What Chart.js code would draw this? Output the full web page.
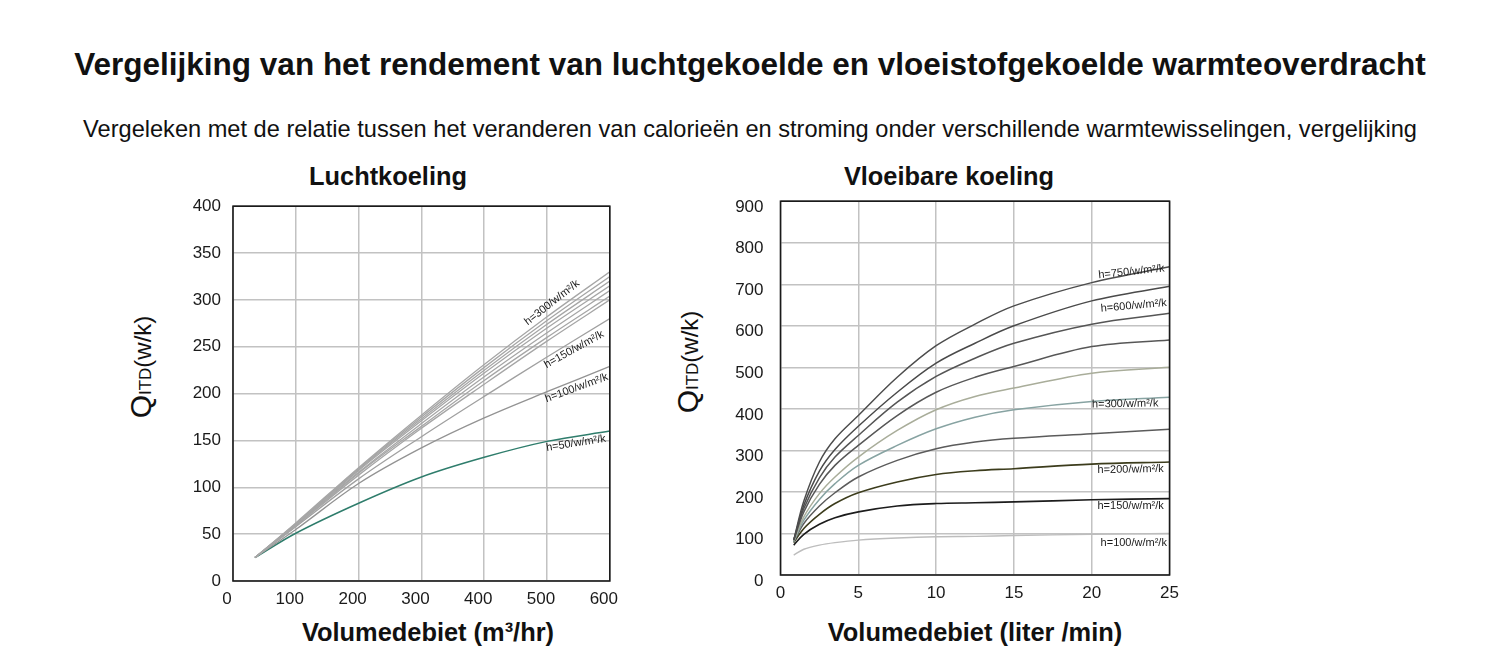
<!DOCTYPE html>
<html lang="nl">
<head>
<meta charset="utf-8">
<title>Vergelijking luchtgekoelde en vloeistofgekoelde warmteoverdracht</title>
<script src="https://cdn.jsdelivr.net/npm/chart.js@4.4.1/dist/chart.umd.min.js"></script>
<style>
    html, body { margin: 0; padding: 0; background: #fff; }
    body {
        width: 1500px; height: 650px; position: relative; overflow: hidden;
        font-family: "Liberation Sans", Arial, sans-serif; color: #111;
    }
    .abs { position: absolute; white-space: nowrap; line-height: 1; }
    #title    { left: 0; width: 1500px; top: 49px; text-align: center; font-size: 31.5px; font-weight: bold; }
    #subtitle { left: 0; width: 1500px; top: 118px; text-align: center; font-size: 23.6px; }
    .panel-title { top: 164px; font-size: 25.4px; font-weight: bold; transform: translateX(-50%); }
    .x-title     { top: 620px; font-size: 25.4px; font-weight: bold; transform: translateX(-50%); }
    .y-title     { font-size: 24px; transform: translate(-50%, -50%) rotate(-90deg); }
    .y-title .q  { font-size: 30px; }
    .y-title .s  { font-size: 17px; }
    .plot { position: absolute; }
</style>
</head>
<body>

<div id="title" class="abs">Vergelijking van het rendement van luchtgekoelde en vloeistofgekoelde warmteoverdracht</div>
<div id="subtitle" class="abs">Vergeleken met de relatie tussen het veranderen van calorieën en stroming onder verschillende warmtewisselingen, vergelijking</div>

<div class="abs panel-title" style="left:388px">Luchtkoeling</div>
<div class="abs panel-title" style="left:949px">Vloeibare koeling</div>

<div class="abs y-title" style="left:141px; top:367px"><span class="q">Q</span><span class="s">ITD</span>(w/k)</div>
<div class="abs y-title" style="left:688px; top:362px"><span class="q">Q</span><span class="s">ITD</span>(w/k)</div>

<div class="abs x-title" style="left:428px">Volumedebiet (m³/hr)</div>
<div class="abs x-title" style="left:975px">Volumedebiet (liter /min)</div>

<div class="plot" style="left:150px; top:184px; width:482px; height:431px;"><canvas id="airChart"></canvas></div>
<div class="plot" style="left:700px; top:174px; width:487px; height:436px;"><canvas id="liquidChart"></canvas></div>

<script>
// ---- Luchtkoeling: Q (w/k) per volumedebiet (m3/hr) ----
const airFlow  = [35, 100, 200, 300, 400, 500, 600];
const airH300  = [25, 62, 121, 177, 231, 282, 330];
const airLine2 = [25, 61, 120, 175, 228, 278, 325];
const airLine3 = [25, 61, 119, 173, 225, 274, 320];
const airLine4 = [25, 60, 118, 171, 222, 270, 315];
const airLine5 = [25, 60, 116, 168, 218, 265, 310];
const airLine6 = [25, 59, 115, 165, 214, 260, 304];
const airLine7 = [25, 59, 113, 163, 210, 256, 300];
const airH150  = [25, 58, 109, 154, 197, 239, 280];
const airH100  = [25, 55, 104, 142, 174, 202, 229];
const airH50   = [25, 51, 83, 111, 132, 149, 160];
const airXTicks = [0, 100, 200, 300, 400, 500, 600];
const airYTicks = [0, 50, 100, 150, 200, 250, 300, 350, 400];

// ---- Vloeibare koeling: Q (w/k) per volumedebiet (liter/min) ----
const liquidFlow = [0.85, 1.5, 2.5, 3.5, 5, 7.5, 10, 12.5, 15, 20, 25];
const liqH750  = [84, 178, 272, 328, 384, 476, 552, 604, 648, 704, 742];
const liqH600  = [84, 168, 250, 302, 358, 440, 510, 558, 600, 660, 695];
const liqLine3 = [84, 160, 234, 284, 336, 416, 478, 522, 558, 604, 630];
const liqLine4 = [84, 152, 218, 264, 312, 384, 440, 476, 502, 550, 566];
const liqLine5 = [82, 140, 196, 236, 284, 348, 398, 430, 450, 486, 500];
const liqH300  = [80, 132, 182, 220, 264, 312, 352, 380, 398, 418, 428];
const liqLine7 = [80, 124, 166, 198, 236, 276, 304, 320, 329, 340, 351];
const liqH200  = [78, 112, 146, 172, 198, 224, 242, 251, 256, 267, 272];
const liqH150  = [72, 98, 122, 138, 152, 166, 172, 174, 176, 181, 184];
const liqH100  = [48, 62, 72, 78, 84, 89, 92, 93, 95, 98, 100];
const liqXTicks = [0, 5, 10, 15, 20, 25];
const liqYTicks = [0, 100, 200, 300, 400, 500, 600, 700, 800, 900];

// curve labels (text + anchor in data units + angle)
const airLabels = [
    { text: 'h=300/w/m²/k', x: 508, y: 297, angle: -38 },
    { text: 'h=150/w/m²/k', x: 543, y: 247, angle: -29 },
    { text: 'h=100/w/m²/k', x: 547, y: 206, angle: -20 },
    { text: 'h=50/w/m²/k',  x: 546, y: 147, angle: -9 },
];
const liqLabels = [
    { text: 'h=750/w/m²/k', x: 22.55, y: 730, angle: -6 },
    { text: 'h=600/w/m²/k', x: 22.7,  y: 648, angle: -5 },
    { text: 'h=300/w/m²/k', x: 22.15, y: 412, angle: -1 },
    { text: 'h=200/w/m²/k', x: 22.5,  y: 254, angle: -1 },
    { text: 'h=150/w/m²/k', x: 22.5,  y: 166, angle: 0 },
    { text: 'h=100/w/m²/k', x: 22.7,  y: 78,  angle: 0 },
];

const FONT = '"Liberation Sans", Arial, sans-serif';
const GRID = '#c2c2c2';

function pts(xs, ys) {
    return xs.map((x, i) => ({ x: x, y: ys[i] }));
}

function series(xs, ys, color, width) {
    return {
        data: pts(xs, ys),
        borderColor: color,
        borderWidth: width || 1.3,
        pointRadius: 0,
        fill: false,
        tension: 0.35,
    };
}

// black frame round the plot area
const frame = {
    id: 'frame',
    afterDatasetsDraw(chart) {
        const a = chart.chartArea;
        const ctx = chart.ctx;
        ctx.save();
        ctx.strokeStyle = '#1a1a1a';
        ctx.lineWidth = 1.6;
        ctx.strokeRect(a.left, a.top, a.right - a.left, a.bottom - a.top);
        ctx.restore();
    }
};

// h=... labels along the curves
const curveLabels = {
    id: 'curveLabels',
    afterDatasetsDraw(chart, args, opts) {
        const { ctx, scales: { x, y } } = chart;
        ctx.save();
        ctx.font = '11px ' + FONT;
        ctx.fillStyle = '#1a1a1a';
        ctx.textAlign = 'center';
        ctx.textBaseline = 'middle';
        (opts.items || []).forEach(it => {
            ctx.save();
            ctx.translate(x.getPixelForValue(it.x), y.getPixelForValue(it.y));
            ctx.rotate(it.angle * Math.PI / 180);
            ctx.fillText(it.text, 0, 0);
            ctx.restore();
        });
        ctx.restore();
    }
};

function axis(min, max, values, opt) {
    return {
        type: 'linear',
        min: min,
        max: max,
        afterBuildTicks: (s) => { s.ticks = values.map(v => ({ value: v })); },
        ticks: {
            color: '#1a1a1a',
            font: { family: FONT, size: 17 },
            padding: opt.padding,
            labelOffset: opt.labelOffset || 0,
            maxRotation: 0,
            autoSkip: false,
        },
        grid: { color: GRID, lineWidth: 1.5, drawTicks: false },
        border: { display: false },
        afterFit: opt.fit,
    };
}

function makeChart(id, datasets, xAxis, yAxis, padding, labels) {
    return new Chart(document.getElementById(id), {
        type: 'line',
        data: { datasets: datasets },
        options: {
            responsive: true,
            maintainAspectRatio: false,
            animation: false,
            layout: { padding: padding },
            plugins: {
                legend: { display: false },
                tooltip: { enabled: false },
                curveLabels: { items: labels },
            },
            scales: { x: xAxis, y: yAxis },
        },
        plugins: [frame, curveLabels],
    });
}

/* 1. Luchtkoeling */
const airGray = '#a6a6a6';
makeChart('airChart', [
    series(airFlow, airH300, airGray),
    series(airFlow, airLine2, airGray),
    series(airFlow, airLine3, airGray),
    series(airFlow, airLine4, airGray),
    series(airFlow, airLine5, airGray),
    series(airFlow, airLine6, airGray),
    series(airFlow, airLine7, airGray),
    series(airFlow, airH150, '#a0a0a0'),
    series(airFlow, airH100, '#939393'),
    series(airFlow, airH50, '#2f7d6c', 1.5),
],
    axis(0, 600, airXTicks, { padding: 8, labelOffset: -6, fit: (s) => { s.height = 34; } }),
    axis(0, 400, airYTicks, { padding: 12, fit: (s) => { s.width = 83; } }),
    { left: 0, right: 16, top: 10, bottom: 0 },
    airLabels
);

/* 2. Vloeibare koeling */
makeChart('liquidChart', [
    series(liquidFlow, liqH750, '#4d4d4d', 1.5),
    series(liquidFlow, liqH600, '#4a4a4a', 1.5),
    series(liquidFlow, liqLine3, '#555555', 1.5),
    series(liquidFlow, liqLine4, '#575757', 1.5),
    series(liquidFlow, liqLine5, '#a9ad9a', 1.5),
    series(liquidFlow, liqH300, '#87a3a2', 1.5),
    series(liquidFlow, liqLine7, '#5b5b5b', 1.5),
    series(liquidFlow, liqH200, '#3c3c1c', 1.6),
    series(liquidFlow, liqH150, '#1c1c1c', 1.6),
    series(liquidFlow, liqH100, '#bdbdbd', 1.4),
],
    axis(0, 25, liqXTicks, { padding: 8, fit: (s) => { s.height = 35; } }),
    axis(0, 900, liqYTicks, { padding: 17, labelOffset: 6, fit: (s) => { s.width = 80.5; } }),
    { left: 0, right: 16, top: 10, bottom: 0 },
    liqLabels
);
</script>
</body>
</html>
